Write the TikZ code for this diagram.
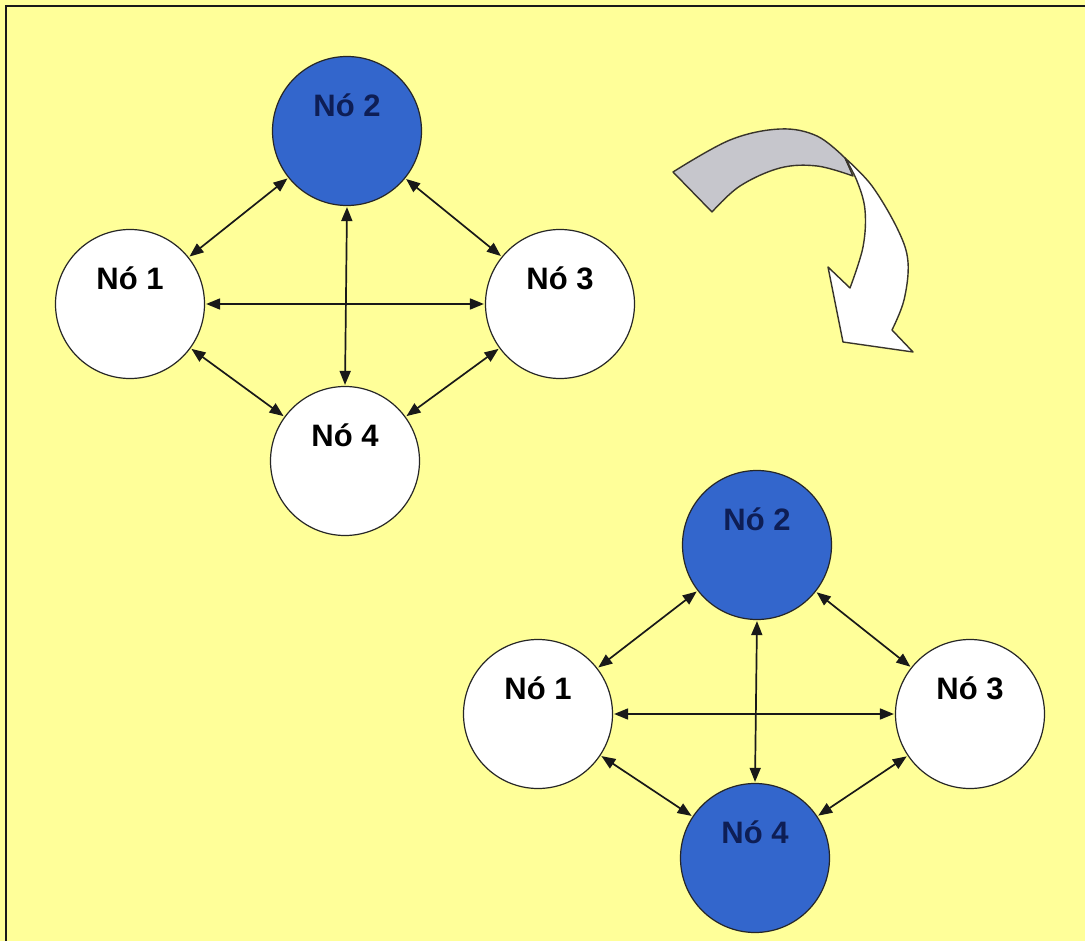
\documentclass[tikz,border=0pt]{standalone}
\usepackage{fontspec}
\setmainfont{Liberation Sans}
\usetikzlibrary{arrows.meta}
\definecolor{bgyellow}{HTML}{FFFF99}
\definecolor{nodeblue}{HTML}{3366CC}
\definecolor{navytext}{HTML}{0E1E55}
\definecolor{arrowgray}{HTML}{C6C6CC}
\begin{document}
\begin{tikzpicture}[x=1pt,y=-1pt,
  nodecirc/.style={circle,draw=black!85,line width=1.2pt,minimum size=149pt,inner sep=0pt},
  whitenode/.style={nodecirc,fill=white},
  bluenode/.style={nodecirc,fill=nodeblue},
  lbl/.style={font=\bfseries\fontsize{31}{32}\selectfont,inner sep=0pt},
  link/.style={line width=1.7pt,black!90,{Triangle[length=14pt,width=11pt]}-{Triangle[length=14pt,width=11pt]},shorten <=1pt,shorten >=1pt},
  bigarrow/.style={draw=black!80!olive,line width=1.4pt,line join=round}
]
\useasboundingbox (0,0) rectangle (1085,941);
\fill[bgyellow] (0,0) rectangle (1085,941);
\draw[line width=2.5pt,black!90] (6,941) -- (6,6) -- (1085,6);

% ---------- top group ----------
\node[bluenode]  (a2) at (347,131) {};
\node[whitenode] (a1) at (130,304) {};
\node[whitenode] (a3) at (560,304) {};
\node[whitenode] (a4) at (345,461) {};
\node[lbl,text=navytext] (a2t) at ([yshift=26pt]a2.center) {Nó 2};
\node[lbl] (a1t) at ([yshift=26pt]a1.center) {Nó 1};
\node[lbl] (a3t) at ([yshift=26pt]a3.center) {Nó 3};
\node[lbl] (a4t) at ([yshift=26pt]a4.center) {Nó 4};
\draw[link] (a2) -- (a1);
\draw[link] (a2) -- (a3);
\draw[link] (a1) -- (a4);
\draw[link] (a3) -- (a4);
\draw[link] (a2.south) -- (a4.north);
\draw[link] (a1.east) -- (a3.west);

% ---------- bottom group ----------
\node[bluenode]  (b2) at (757,545) {};
\node[whitenode] (b1) at (538,714) {};
\node[whitenode] (b3) at (970,714) {};
\node[bluenode]  (b4) at (755,858) {};
\node[lbl,text=navytext] (b2t) at ([yshift=26pt]b2.center) {Nó 2};
\node[lbl] (b1t) at ([yshift=26pt]b1.center) {Nó 1};
\node[lbl] (b3t) at ([yshift=26pt]b3.center) {Nó 3};
\node[lbl,text=navytext] (b4t) at ([yshift=26pt]b4.center) {Nó 4};
\draw[link] (b2) -- (b1);
\draw[link] (b2) -- (b3);
\draw[link] (b1) -- (b4);
\draw[link] (b3) -- (b4);
\draw[link] (b2.south) -- (b4.north);
\draw[link] (b1.east) -- (b3.west);

% ---------- curved arrow ----------
% gray back part
\filldraw[bigarrow,fill=arrowgray] (673,172)
  -- plot[smooth,tension=0.6] coordinates {(673,172) (730,140) (780,129) (817,136) (845,158)}
  -- (853,176)
  -- plot[smooth,tension=0.6] coordinates {(853,176) (817,166) (780,168) (740,186) (712,212)}
  -- cycle;
% white front part
\filldraw[bigarrow,fill=white] (845,158)
  -- plot[smooth,tension=0.6] coordinates {(845,158) (872,186) (898,230) (908,262) (904,300) (892,330)}
  -- (913,352) -- (843,342) -- (828,267) -- (850,288)
  -- plot[smooth,tension=0.6] coordinates {(850,288) (863,247) (865,210) (857,181) (845,158)}
  -- cycle;
\end{tikzpicture}
\end{document}
